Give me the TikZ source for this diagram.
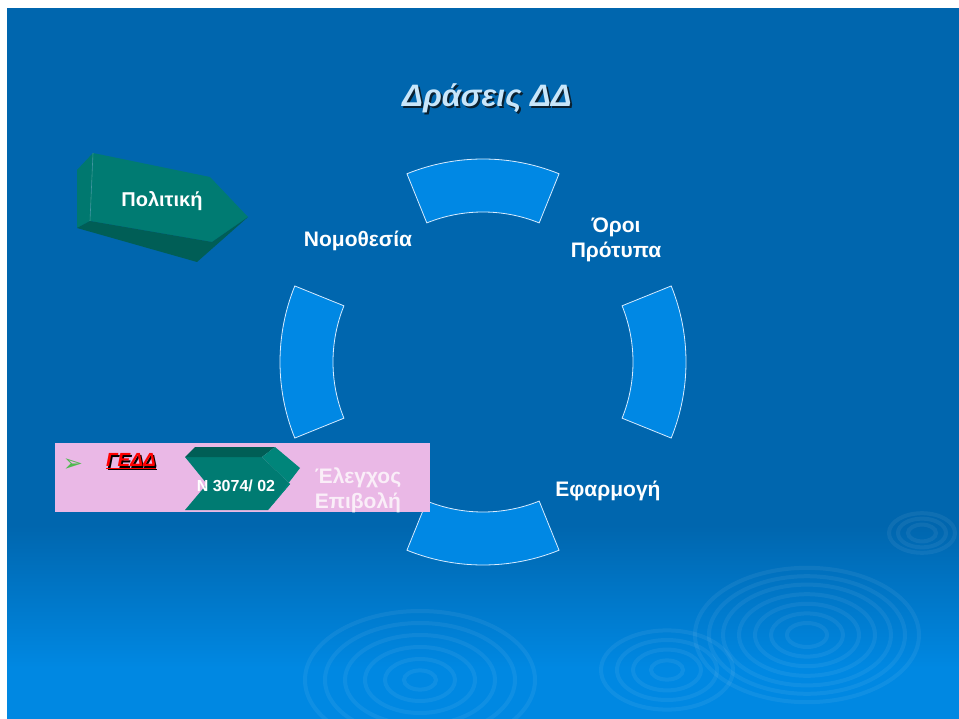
\documentclass[tikz,border=0pt]{standalone}
\usepackage{fontspec}
\setmainfont{Liberation Sans}
\newfontfamily\djv{DejaVu Sans}
\usetikzlibrary{calc}
\definecolor{bgtop}{HTML}{0066AE}
\definecolor{bgbot}{HTML}{0088E2}
\definecolor{seg}{HTML}{0088E4}
\definecolor{segline}{HTML}{D8ECFF}
\definecolor{pinkbox}{HTML}{EAB8E6}
\definecolor{tealfront}{HTML}{007B72}
\definecolor{tealdark}{HTML}{005E56}
\definecolor{tealside}{HTML}{00857A}
\definecolor{tealleft}{HTML}{00786F}
\definecolor{titlecol}{HTML}{C8E6FA}
\definecolor{titleshadow}{HTML}{0A2030}
\definecolor{palepink}{HTML}{FAEEF8}
\definecolor{bulletgreen}{HTML}{4FB84F}
\begin{document}
\begin{tikzpicture}[x=1pt,y=-1pt,
  lbl/.style={text=white,font=\bfseries\fontsize{21}{25}\selectfont,align=center,inner sep=0pt},
  segstyle/.style={fill=seg,draw=segline,line width=0.8pt,line join=miter},
  ripple/.style={draw=white,opacity=0.06,line width=4pt}]
\useasboundingbox (0,0) rectangle (959,719);
\fill[white] (0,0) rectangle (959,719);
% background
\fill[bgtop] (7,8) rectangle (959,526);
\shade[top color=bgtop,bottom color=bgbot] (7,525) rectangle (959,668);
\fill[bgbot] (7,667) rectangle (959,719);
% ripples
\foreach \r in {112,98,84,68,52,36,20} \draw[ripple] (807,635) ellipse [x radius=\r, y radius={0.6*\r}];
\foreach \r in {33,24,14} \draw[ripple] (922,533) ellipse [x radius=\r, y radius={0.6*\r}];
\foreach \r in {66,50,34,16} \draw[ripple] (667,670) ellipse [x radius=\r, y radius={0.6*\r}];
\foreach \r in {115,95,75,55,35,16} \draw[ripple] (420,680) ellipse [x radius=\r, y radius={0.6*\r}];
% ring segments
\coordinate (C) at (483,362);
\foreach \a in {90,0,270,180}
  \draw[segstyle] ($(C)+(\a-22:203)$) arc[start angle=\a-22,end angle=\a+22,radius=203]
     -- ($(C)+(\a+22:150)$) arc[start angle=\a+22,end angle=\a-22,radius=150] -- cycle;
% title
\node[font=\bfseries\itshape\fontsize{31}{36}\selectfont,inner sep=0pt] (title) at (487,99)
  {\makebox[0pt][l]{\kern2pt\raisebox{-2pt}{\textcolor{titleshadow}{Δράσεις ΔΔ}}}\textcolor{titlecol}{Δράσεις ΔΔ}};
% labels
\node[lbl] (nomo) at (358,241) {Νομοθεσία};
\node[lbl] (oroi) at (616,240) {Όροι\\Πρότυπα};
\node[lbl] (efar) at (608,491) {Εφαρμογή};
% politiki arrow
\fill[tealleft] (77,170) -- (93,153) -- (90,221) -- (77,228) -- cycle;
\fill[tealfront] (93,153) -- (210,177) -- (248,217) -- (212,242) -- (90,221) -- cycle;
\fill[tealdark] (77,228) -- (90,221) -- (212,242) -- (248,217) -- (197,262) -- cycle;
\draw[white,opacity=0.25,line width=0.6pt] (93,153) -- (90,221);
\node[lbl,font=\bfseries\fontsize{20}{24}\selectfont] (pol) at (162,201) {Πολιτική};
% pink box
\fill[pinkbox] (55,443) rectangle (430,512);
\node[text=bulletgreen,font=\djv\fontsize{24}{26}\selectfont,inner sep=0pt] (bullet) at (73,465) {➢};
\node[font=\bfseries\itshape\fontsize{19}{22}\selectfont,inner sep=0pt] (gedd) at (131,462)
  {\makebox[0pt][l]{\kern1.5pt\raisebox{-1.5pt}{\textcolor{black}{\underline{ΓΕΔΔ}}}}\textcolor{red}{\underline{ΓΕΔΔ}}};
% chevron
\fill[tealfront] (185,457) -- (262,457) -- (290,484) -- (268,510) -- (185,510) -- (207,484) -- cycle;
\fill[tealdark] (185,457) -- (195,447) -- (275,447) -- (262,457) -- cycle;
\fill[tealside] (262,457) -- (275,447) -- (300,468) -- (268,510) -- (290,484) -- cycle;
\node[text=white,font=\bfseries\fontsize{16}{19}\selectfont,inner sep=0pt] (nomos) at (236,486) {Ν 3074/ 02};
\node[lbl,text=palepink] (elen) at (358,490) {Έλεγχος\\Επιβολή};
\end{tikzpicture}
\end{document}
